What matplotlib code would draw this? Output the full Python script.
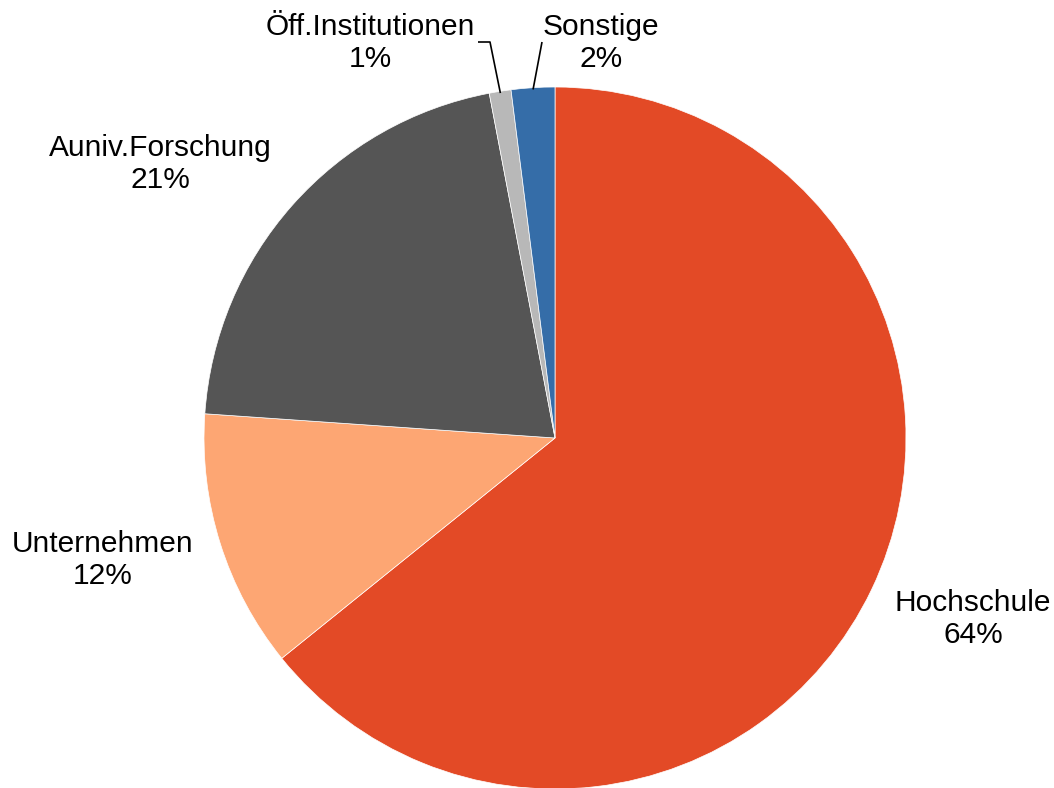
import numpy as np
import matplotlib
matplotlib.use("Agg")
import matplotlib.pyplot as plt

categories = ["Hochschule", "Unternehmen", "Auniv.Forschung", "Öff.Institutionen", "Sonstige"]
values = [64.2, 11.9, 20.9, 1.0, 2.0]
colors = ["#E34A26", "#FDA673", "#555555", "#B8B8B8", "#356DA8"]

W, H = 1054, 788
fig = plt.figure(figsize=(W / 100, H / 100), dpi=100)
ax = fig.add_axes([0, 0, 1, 1])

cx, cy, R = 555, H - 438, 351
wedges, _ = ax.pie(values, colors=colors, startangle=90, counterclock=False,
                   center=(cx, cy), radius=R, frame=True,
                   wedgeprops=dict(edgecolor="white", linewidth=0.5))
ax.set_xlim(0, W)
ax.set_ylim(0, H)
ax.axis("off")

total = sum(values)
pcts = [round(v / total * 100) for v in values]

fs = 21.5
label_pos = {
    "Hochschule": (973, H - 619),
    "Unternehmen": (103, H - 560),
    "Auniv.Forschung": (160, H - 164),
    "Öff.Institutionen": (370, H - 43),
    "Sonstige": (601, H - 43),
}
for name, p in zip(categories, pcts):
    x, y = label_pos[name]
    ax.text(x, y, f"{name}\n{p}%", ha="center", va="center", fontsize=fs,
            family=["Liberation Sans", "DejaVu Sans"], linespacing=1.15, color="black")

def edge_point(w, frac=1.0):
    mid = np.deg2rad((w.theta1 + w.theta2) / 2)
    return cx + R * frac * np.cos(mid), cy + R * frac * np.sin(mid)

# leader lines
ex, ey = edge_point(wedges[3], 0.995)
ax.plot([478, 490, ex], [H - 42, H - 42, ey], color="black", lw=1.2, solid_capstyle="butt")
ex, ey = edge_point(wedges[4], 0.995)
ax.plot([542, ex], [H - 42, ey], color="black", lw=1.2, solid_capstyle="butt")

fig.savefig("out.png", dpi=100, facecolor="white")
